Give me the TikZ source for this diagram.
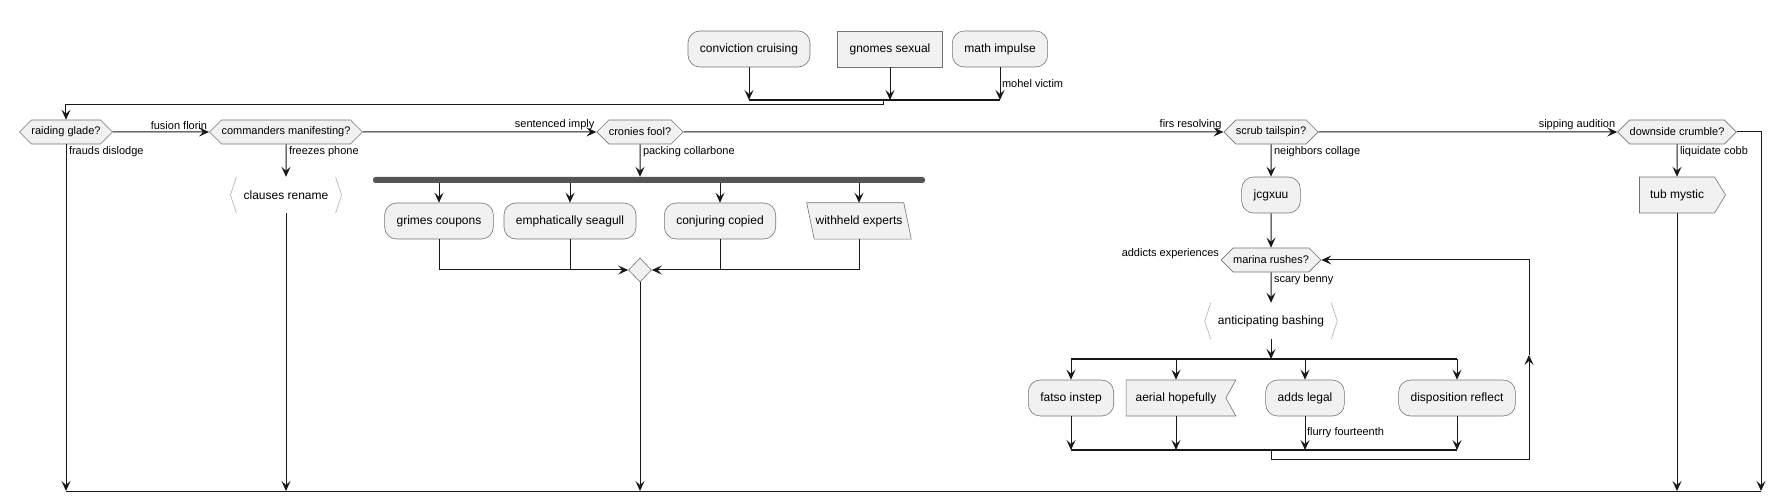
\documentclass[tikz,border=0pt]{standalone}
\usepackage{fontspec}
\setmainfont{Liberation Sans}
\usetikzlibrary{arrows.meta}
\usetikzlibrary{shapes.geometric}
\usetikzlibrary{shapes.symbols}
\definecolor{boxfill}{HTML}{F1F1F1}
\definecolor{boxline}{HTML}{181818}
\definecolor{bargray}{HTML}{555555}
\pgfdeclarelayer{behind}
\pgfsetlayers{behind,main}

\tikzset{
	flow/.style={draw=boxline, line width=1pt, -{Stealth[length=10pt,width=9pt,inset=4pt]}},
	wire/.style={draw=boxline, line width=1pt},
	joinline/.style={draw=boxline, line width=1.6pt},
	shapeline/.style={draw=boxline!60, line width=0.6pt, fill=boxfill},
	act/.style={shapeline, rounded corners=12pt, minimum height=36pt, inner xsep=12pt, font=\fontsize{12}{14}\selectfont},
	boxact/.style={act, rounded corners=0pt},
	ask/.style={shapeline, signal, signal to=west and east, signal pointer angle=90, minimum height=24pt, inner xsep=0pt, font=\fontsize{11}{13}\selectfont},
	sendact/.style={shapeline, signal, signal to=east, signal from=nowhere, signal pointer angle=117, minimum height=36pt, inner xsep=10.5pt, font=\fontsize{12}{14}\selectfont},
	takeact/.style={shapeline, signal, signal to=nowhere, signal from=east, signal pointer angle=122, minimum height=36pt, inner xsep=9.5pt, font=\fontsize{12}{14}\selectfont},
	slantact/.style={minimum height=36pt, inner xsep=5pt, font=\fontsize{12}{14}\selectfont},
	listact/.style={minimum height=36pt, inner xsep=13pt, font=\fontsize{12}{14}\selectfont},
	bracketline/.style={draw=boxline!35, line width=0.6pt},
	lbl/.style={inner sep=1.5pt, font=\fontsize{11}{13}\selectfont},
	forkbar/.style={fill=bargray, rounded corners=2.5pt, minimum height=6pt, inner sep=0pt},
	mergept/.style={shapeline, diamond, minimum width=23pt, minimum height=24pt, inner sep=0pt},
}

\begin{document}
\begin{tikzpicture}[x=1pt,y=-1pt]
	\useasboundingbox (0,0) rectangle (1785,502);
	\def\asky{132}
	\def\floory{491}
	\def\slant{3.75pt}

	% three starts
	\node[act] (conviction) at (749,49) {conviction cruising};
	\node[boxact] (gnomes) at (890,49) {gnomes sexual};
	\node[act] (math) at (1000,49) {math impulse};
	\coordinate (inA) at (749,100);
	\coordinate (inB) at (890,100);
	\coordinate (inC) at (1000,100);
	\coordinate (topstep) at (883,100);
	\draw[flow] (conviction) -- (inA);
	\draw[flow] (gnomes) -- (inB);
	\draw[flow] (math) -- node[lbl, pos=0.5, anchor=west] (l-mohel) {mohel victim} (inC);
	\draw[joinline] (inA) -- (inC);

	% row of questions
	\node[ask] (raiding) at (66,\asky) {raiding glade?};
	\node[ask] (commanders) at (286,\asky) {commanders manifesting?};
	\node[ask] (cronies) at (640,\asky) {cronies fool?};
	\node[ask] (scrub) at (1271,\asky) {scrub tailspin?};
	\node[ask] (downside) at (1677,\asky) {downside crumble?};
	\draw[flow] (topstep) -- ++(0,5) -| (raiding);
	\draw[flow] (raiding) -- node[lbl, pos=1, anchor=south east] (l-fusion) {fusion florin} (commanders);
	\draw[flow] (commanders) -- node[lbl, pos=1, anchor=south east] (l-sentenced) {sentenced imply} (cronies);
	\draw[flow] (cronies) -- node[lbl, pos=1, anchor=south east] (l-firs) {firs resolving} (scrub);
	\draw[flow] (scrub) -- node[lbl, pos=1, anchor=south east] (l-sipping) {sipping audition} (downside);

	% floor line
	\coordinate (floorA) at (66,\floory);
	\coordinate (floorB) at (286,\floory);
	\coordinate (floorC) at (640,\floory);
	\coordinate (floorD) at (1677,\floory);
	\coordinate (floorE) at (1761,\floory);
	\draw[wire] (floorA) -- (floorE);
	\draw[flow] (raiding) -- node[lbl, pos=0, anchor=north west, xshift=1pt] (l-frauds) {frauds dislodge} (floorA);
	\draw[flow] (downside) -| (floorE);

	% clauses
	\node[listact] (clauses) at (286,195) {clauses rename};
	\draw[bracketline] ([xshift=6pt]clauses.north west) -- (clauses.west) -- ([xshift=6pt]clauses.south west);
	\draw[bracketline] ([xshift=-6pt]clauses.north east) -- (clauses.east) -- ([xshift=-6pt]clauses.south east);
	\draw[flow] (commanders) -- node[lbl, pos=0, anchor=north west, xshift=1pt] (l-freezes) {freezes phone} (clauses);
	\draw[flow] (clauses) -- (floorB);

	% fork under cronies
	\node[forkbar, minimum width=552pt] (fork) at (649,180) {};
	\draw[flow] (cronies) -- node[lbl, pos=0, anchor=north west, xshift=1pt] (l-packing) {packing collarbone} (cronies |- fork.north);
	\node[act] (grimes) at (439,221) {grimes coupons};
	\node[act] (seagull) at (570,221) {emphatically seagull};
	\node[act] (conjuring) at (720,221) {conjuring copied};
	\node[slantact] (withheld) at (859,221) {withheld experts};
	\begin{pgfonlayer}{behind}
		\filldraw[shapeline] ([xshift=-\slant]withheld.north west) -- ([xshift=-\slant]withheld.north east)
			-- ([xshift=\slant]withheld.south east) -- ([xshift=\slant]withheld.south west) -- cycle;
	\end{pgfonlayer}
	\foreach \n in {grimes,seagull,conjuring,withheld}
		\draw[flow] (fork.south -| \n) -- (\n);
	\node[mergept] (merge) at (640,270) {};
	\draw[flow] (grimes) |- (merge);
	\draw[wire] (seagull) -- (seagull |- merge);
	\draw[wire] (conjuring) -- (conjuring |- merge);
	\draw[flow] (withheld) |- (merge);
	\draw[flow] (merge) -- (floorC);

	% loop under scrub
	\node[act] (jcgxuu) at (1271,195) {jcgxuu};
	\draw[flow] (scrub) -- node[lbl, pos=0, anchor=north west, xshift=1pt] (l-neighbors) {neighbors collage} (jcgxuu);
	\node[ask] (marina) at (1271,260) {marina rushes?};
	\draw[flow] (jcgxuu) -- (marina);
	\node[lbl, anchor=south east] (l-addicts) at (marina.west) {addicts experiences};
	\node[listact] (anticipating) at (1271,321) {anticipating bashing};
	\draw[bracketline] ([xshift=6pt]anticipating.north west) -- (anticipating.west) -- ([xshift=6pt]anticipating.south west);
	\draw[bracketline] ([xshift=-6pt]anticipating.north east) -- (anticipating.east) -- ([xshift=-6pt]anticipating.south east);
	\draw[flow] (marina) -- node[lbl, pos=0, anchor=north west, xshift=1pt] (l-scary) {scary benny} (anticipating);
	\coordinate (splitin) at (1271,359);
	\coordinate (splitL) at (1071,359);
	\coordinate (splitR) at (1457,359);
	\draw[flow] (anticipating) -- (splitin);
	\draw[joinline] (splitL) -- (splitR);
	\node[act] (fatso) at (1071,398) {fatso instep};
	\node[takeact] (aerial) at (1176,398) {aerial hopefully};
	\node[act] (adds) at (1305,398) {adds legal};
	\node[act] (disposition) at (1457,398) {disposition reflect};
	\foreach \n in {fatso,aerial,adds,disposition}
		\draw[flow] (splitL -| \n) -- (\n);
	\coordinate (joinL) at (1071,450);
	\coordinate (joinR) at (1457,450);
	\foreach \n in {fatso,aerial,disposition}
		\draw[flow] (\n) -- (joinL -| \n);
	\draw[flow] (adds) -- node[lbl, pos=0.5, anchor=west] (l-flurry) {flurry fourteenth} (joinL -| adds);
	\draw[joinline] (joinL) -- (joinR);
	\coordinate (loopdown) at (1271,450);
	\coordinate (loopmid) at (1529,355);
	\draw[flow] (loopdown) -- ++(0,9) -| (loopmid);
	\draw[flow] (loopmid) |- (marina);

	% last branch
	\node[sendact] (tub) at (1677,195) {tub mystic};
	\draw[flow] (downside) -- node[lbl, pos=0, anchor=north west, xshift=1pt] (l-liquidate) {liquidate cobb} (tub);
	\draw[flow] (tub) -- (floorD);
\end{tikzpicture}
\end{document}
